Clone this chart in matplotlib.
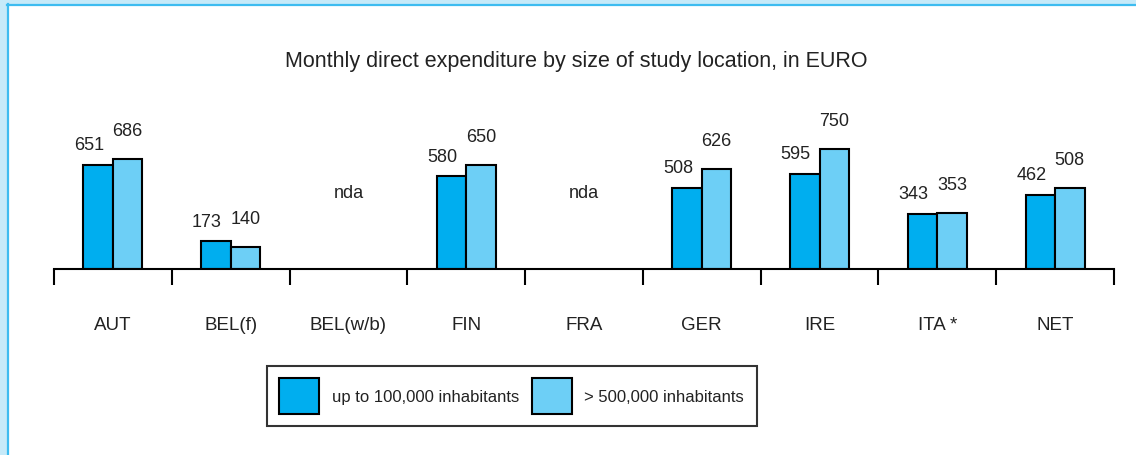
import numpy as np
import matplotlib.pyplot as plt
from matplotlib.patches import Rectangle
from matplotlib.lines import Line2D
import matplotlib.transforms as mtransforms

plt.rcParams['font.family'] = ['Liberation Sans', 'DejaVu Sans']

# data
countries = ['AUT', 'BEL(f)', 'BEL(w/b)', 'FIN', 'FRA', 'GER', 'IRE', 'ITA *', 'NET']
small_towns = [651, 173, np.nan, 580, np.nan, 508, 595, 343, 462]
big_cities = [686, 140, np.nan, 650, np.nan, 626, 750, 353, 508]
series_names = ['up to 100,000 inhabitants', '> 500,000 inhabitants']
title = 'Monthly direct expenditure by size of study location, in EURO'

dark_blue = '#00aeef'
light_blue = '#6dcff6'
text_col = '#222222'

W, H = 1136, 456
fig = plt.figure(figsize=(W / 100, H / 100), dpi=100)
fig.patch.set_facecolor('white')

# light blue frame along top and left edges
fig.add_artist(Rectangle((0, 1 - 5 / H), 1, 5 / H, transform=fig.transFigure,
                         facecolor='#c6eaf9', edgecolor='none', zorder=0))
fig.add_artist(Rectangle((0, 0), 7 / W, 1, transform=fig.transFigure,
                         facecolor='#c6eaf9', edgecolor='none', zorder=0))
fig.add_artist(Line2D([7 / W, 1], [1 - 5.5 / H, 1 - 5.5 / H], transform=fig.transFigure,
                      color='#3dbcf0', lw=1.6))
fig.add_artist(Line2D([7.5 / W, 7.5 / W], [0, 1 - 5 / H], transform=fig.transFigure,
                      color='#3dbcf0', lw=1.6))

x0, x1 = 54, 1114
y_base, y_top = 270, 70
ax = fig.add_axes([x0 / W, 1 - y_base / H, (x1 - x0) / W, (y_base - y_top) / H])
ax.set_facecolor('none')

n = len(countries)
pos = np.arange(n) + 0.5
bw = 0.25
px_per_unit = 0.16
ax.set_xlim(0, n)
ax.set_ylim(0, (y_base - y_top) / px_per_unit)

b1 = ax.bar(pos - bw / 2, small_towns, bw, color=dark_blue, edgecolor='black', lw=1.5,
            label=series_names[0])
b2 = ax.bar(pos + bw / 2, big_cities, bw, color=light_blue, edgecolor='black', lw=1.5,
            label=series_names[1])

for i in range(n):
    if np.isnan(small_towns[i]):
        ax.text(pos[i], 481, 'nda', ha='center', va='center', fontsize=13, color=text_col)
        continue
    ax.annotate(f'{small_towns[i]:.0f}', (pos[i] - bw / 2, small_towns[i]),
                xytext=(-6.5, 14.5), textcoords='offset points',
                ha='center', va='center', fontsize=13, color=text_col)
    ax.annotate(f'{big_cities[i]:.0f}', (pos[i] + bw / 2, big_cities[i]),
                xytext=(0, 20.5), textcoords='offset points',
                ha='center', va='center', fontsize=13, color=text_col)

# category labels below the axis
trans = mtransforms.blended_transform_factory(ax.transData, ax.transAxes)
for i, c in enumerate(countries):
    ax.text(pos[i], -56 / (y_base - y_top), c, transform=trans, ha='center', va='center',
            fontsize=13.5, color=text_col)

for s in ['top', 'right', 'left']:
    ax.spines[s].set_visible(False)
ax.spines['bottom'].set_linewidth(1.5)
ax.set_yticks([])
ax.set_xticks(np.arange(n + 1))
ax.set_xticklabels([])
ax.tick_params(axis='x', direction='out', length=11.5, width=1.5, color='black')

fig.text(576.5 / W, 1 - 62 / H, title, ha='center', va='center', fontsize=15.5, color=text_col)

leg = fig.legend(handles=[b1, b2], loc='center', bbox_to_anchor=(511.5 / W, 1 - 397 / H),
                 ncol=2, frameon=True, fancybox=False, edgecolor='black', fontsize=12,
                 handlelength=2.4, handleheight=2.9, handletextpad=0.76, columnspacing=0.76,
                 borderpad=0.75, borderaxespad=0)
leg.get_frame().set_linewidth(1.5)
for t in leg.get_texts():
    t.set_color(text_col)

fig.savefig('out.png', dpi=100)
